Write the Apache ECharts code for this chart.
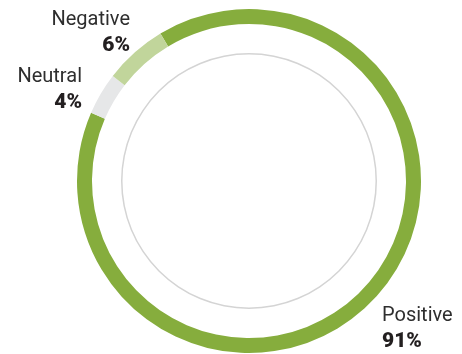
<!DOCTYPE html>
<html>
<head>
<meta charset="utf-8">
<script src="https://cdn.jsdelivr.net/npm/echarts@6/dist/echarts.min.js"></script>
<style>
html,body{margin:0;padding:0;background:#fff;}
#chart{width:462px;height:354px;}
</style>
</head>
<body>
<div id="chart"></div>
<script>
// Data
var categories = ['Positive', 'Neutral', 'Negative'];
var values = [91, 4, 6];
var colors = ['#86ad3d', '#e6e7e8', '#c1d59b'];

// Label anchor positions (layout only)
var labelAnchors = {
  Positive: { x: 382, y: 303, align: 'left' },
  Neutral:  { x: 82,  y: 64,  align: 'right' },
  Negative: { x: 130, y: 7,   align: 'right' }
};

var chart = echarts.init(document.getElementById('chart'), null, { renderer: 'canvas' });

var pieData = categories.map(function (c, i) {
  return { name: c, value: values[i], itemStyle: { color: colors[i] } };
});

var option = {
  animation: false,
  series: [
    {
      type: 'pie',
      center: [249, 181],
      radius: [126.5, 128],
      silent: true,
      label: { show: false },
      labelLine: { show: false },
      itemStyle: { color: '#d4d4d4' },
      data: [{ value: 1, name: 'ring' }]
    },
    {
      type: 'pie',
      center: [249, 181],
      radius: [157, 172],
      startAngle: 121,
      clockwise: true,
      silent: true,
      avoidLabelOverlap: false,
      itemStyle: { borderWidth: 0 },
      labelLine: { show: false },
      label: {
        show: true,
        position: 'outside',
        formatter: function (p) { return '{n|' + p.name + '}\n{v|' + p.value + '%}'; },
        rich: {
          n: { fontFamily: 'Roboto', fontSize: 20, fontWeight: 400, color: '#2e2e2e', lineHeight: 26 },
          v: { fontFamily: 'Roboto', fontSize: 21, fontWeight: 900, color: '#231f20', lineHeight: 26 }
        }
      },
      labelLayout: function (params) {
        var a = labelAnchors[categories[params.dataIndex]];
        return { x: a.x, y: a.y, align: a.align, verticalAlign: 'top' };
      },
      data: pieData
    }
  ]
};
chart.setOption(option);
</script>
</body>
</html>
